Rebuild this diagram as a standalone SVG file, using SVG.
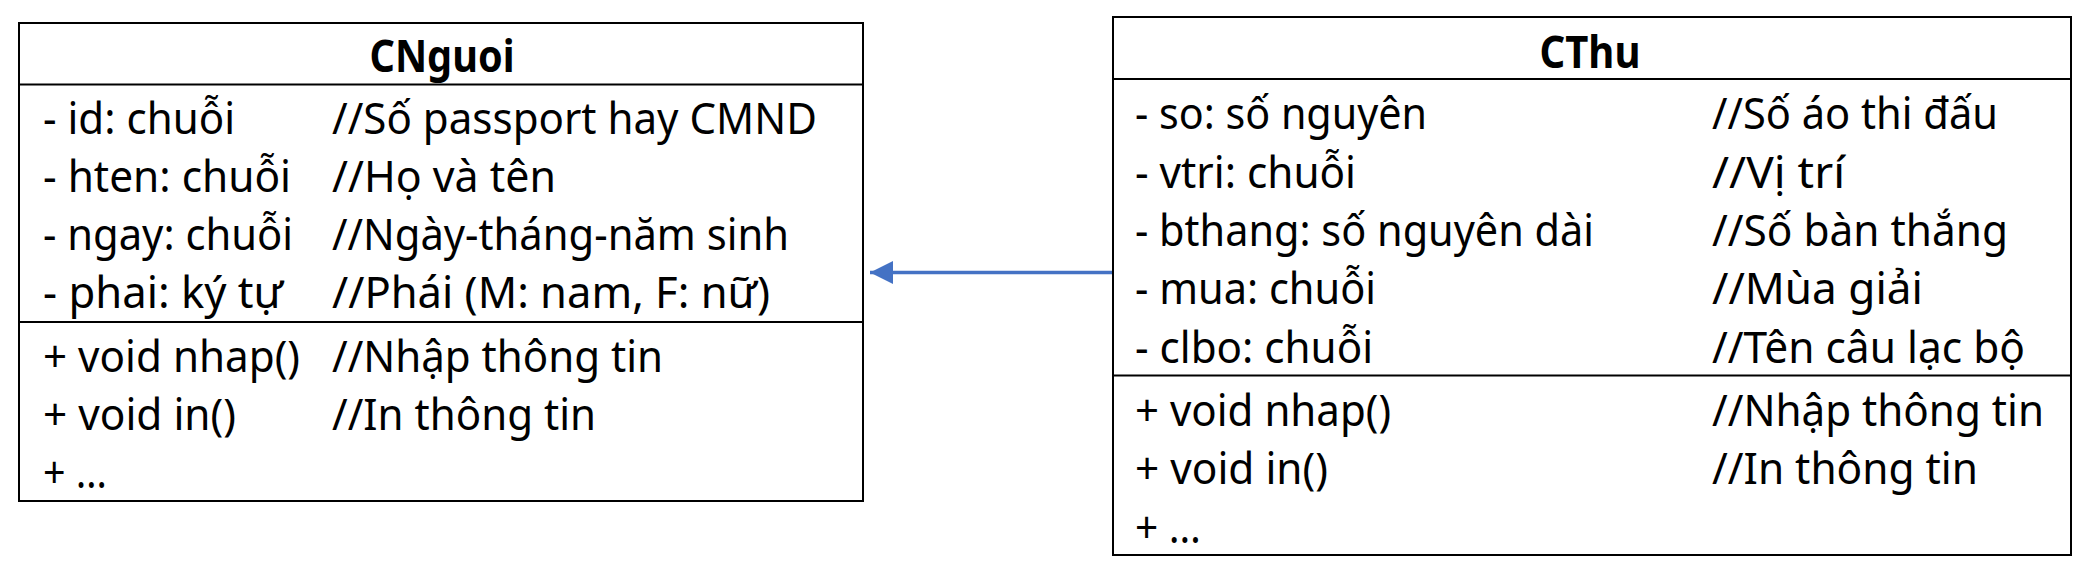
<svg xmlns="http://www.w3.org/2000/svg" width="2092" height="574" viewBox="0 0 2092 574">
<style>
.box{fill:#ffffff;stroke:#000000;stroke-width:2}
.div{stroke:#000000;stroke-width:2}
text{font-family:"Noto Sans","Liberation Sans",sans-serif;font-size:44px;fill:#000000}
.title{font-weight:bold;text-anchor:middle}
</style>
<defs>
<marker id="tri" markerUnits="userSpaceOnUse" markerWidth="24" markerHeight="24" refX="23" refY="11.5" orient="auto">
<path d="M0,0 L23,11.5 L0,23 Z" fill="#4472C4"/>
</marker>
</defs>
<rect width="2092" height="574" fill="#ffffff"/>
<g id="connectors">
<line x1="1113" y1="272.5" x2="870" y2="272.5" stroke="#4472C4" stroke-width="3.5" marker-end="url(#tri)"/>
</g>
<g id="CNguoi">
<rect class="box" x="19" y="23" width="844" height="478"/>
<line class="div" x1="19" y1="84.5" x2="863" y2="84.5"/>
<line class="div" x1="19" y1="322" x2="863" y2="322"/>
<text class="title" x="442" y="72" textLength="145" lengthAdjust="spacingAndGlyphs">CNguoi</text>
<text x="43" y="134" textLength="192" lengthAdjust="spacingAndGlyphs">- id: chuỗi</text>
<text x="43" y="192" textLength="248" lengthAdjust="spacingAndGlyphs">- hten: chuỗi</text>
<text x="43" y="250" textLength="250" lengthAdjust="spacingAndGlyphs">- ngay: chuỗi</text>
<text x="43" y="308" textLength="240" lengthAdjust="spacingAndGlyphs">- phai: ký tự</text>
<text x="332" y="134" textLength="485" lengthAdjust="spacingAndGlyphs">//Số passport hay CMND</text>
<text x="332" y="192" textLength="224" lengthAdjust="spacingAndGlyphs">//Họ và tên</text>
<text x="332" y="250" textLength="457" lengthAdjust="spacingAndGlyphs">//Ngày-tháng-năm sinh</text>
<text x="332" y="308" textLength="438" lengthAdjust="spacingAndGlyphs">//Phái (M: nam, F: nữ)</text>
<text x="43" y="372" textLength="257" lengthAdjust="spacingAndGlyphs">+ void nhap()</text>
<text x="43" y="430" textLength="193" lengthAdjust="spacingAndGlyphs">+ void in()</text>
<text x="43" y="488" textLength="64" lengthAdjust="spacingAndGlyphs">+ …</text>
<text x="332" y="372" textLength="331" lengthAdjust="spacingAndGlyphs">//Nhập thông tin</text>
<text x="332" y="430" textLength="264" lengthAdjust="spacingAndGlyphs">//In thông tin</text>
</g>
<g id="CThu">
<rect class="box" x="1113" y="17" width="958" height="538"/>
<line class="div" x1="1113" y1="79" x2="2071" y2="79"/>
<line class="div" x1="1113" y1="375.5" x2="2071" y2="375.5"/>
<text class="title" x="1590" y="68" textLength="101" lengthAdjust="spacingAndGlyphs">CThu</text>
<text x="1135" y="129" textLength="292" lengthAdjust="spacingAndGlyphs">- so: số nguyên</text>
<text x="1135" y="188" textLength="221" lengthAdjust="spacingAndGlyphs">- vtri: chuỗi</text>
<text x="1135" y="246" textLength="459" lengthAdjust="spacingAndGlyphs">- bthang: số nguyên dài</text>
<text x="1135" y="304" textLength="241" lengthAdjust="spacingAndGlyphs">- mua: chuỗi</text>
<text x="1135" y="363" textLength="238" lengthAdjust="spacingAndGlyphs">- clbo: chuỗi</text>
<text x="1712" y="129" textLength="286" lengthAdjust="spacingAndGlyphs">//Số áo thi đấu</text>
<text x="1712" y="188" textLength="133" lengthAdjust="spacingAndGlyphs">//Vị trí</text>
<text x="1712" y="246" textLength="296" lengthAdjust="spacingAndGlyphs">//Số bàn thắng</text>
<text x="1712" y="304" textLength="211" lengthAdjust="spacingAndGlyphs">//Mùa giải</text>
<text x="1712" y="363" textLength="313" lengthAdjust="spacingAndGlyphs">//Tên câu lạc bộ</text>
<text x="1135" y="426" textLength="256" lengthAdjust="spacingAndGlyphs">+ void nhap()</text>
<text x="1135" y="484" textLength="193" lengthAdjust="spacingAndGlyphs">+ void in()</text>
<text x="1135" y="543" textLength="66" lengthAdjust="spacingAndGlyphs">+ …</text>
<text x="1712" y="426" textLength="332" lengthAdjust="spacingAndGlyphs">//Nhập thông tin</text>
<text x="1712" y="484" textLength="266" lengthAdjust="spacingAndGlyphs">//In thông tin</text>
</g>
</svg>
